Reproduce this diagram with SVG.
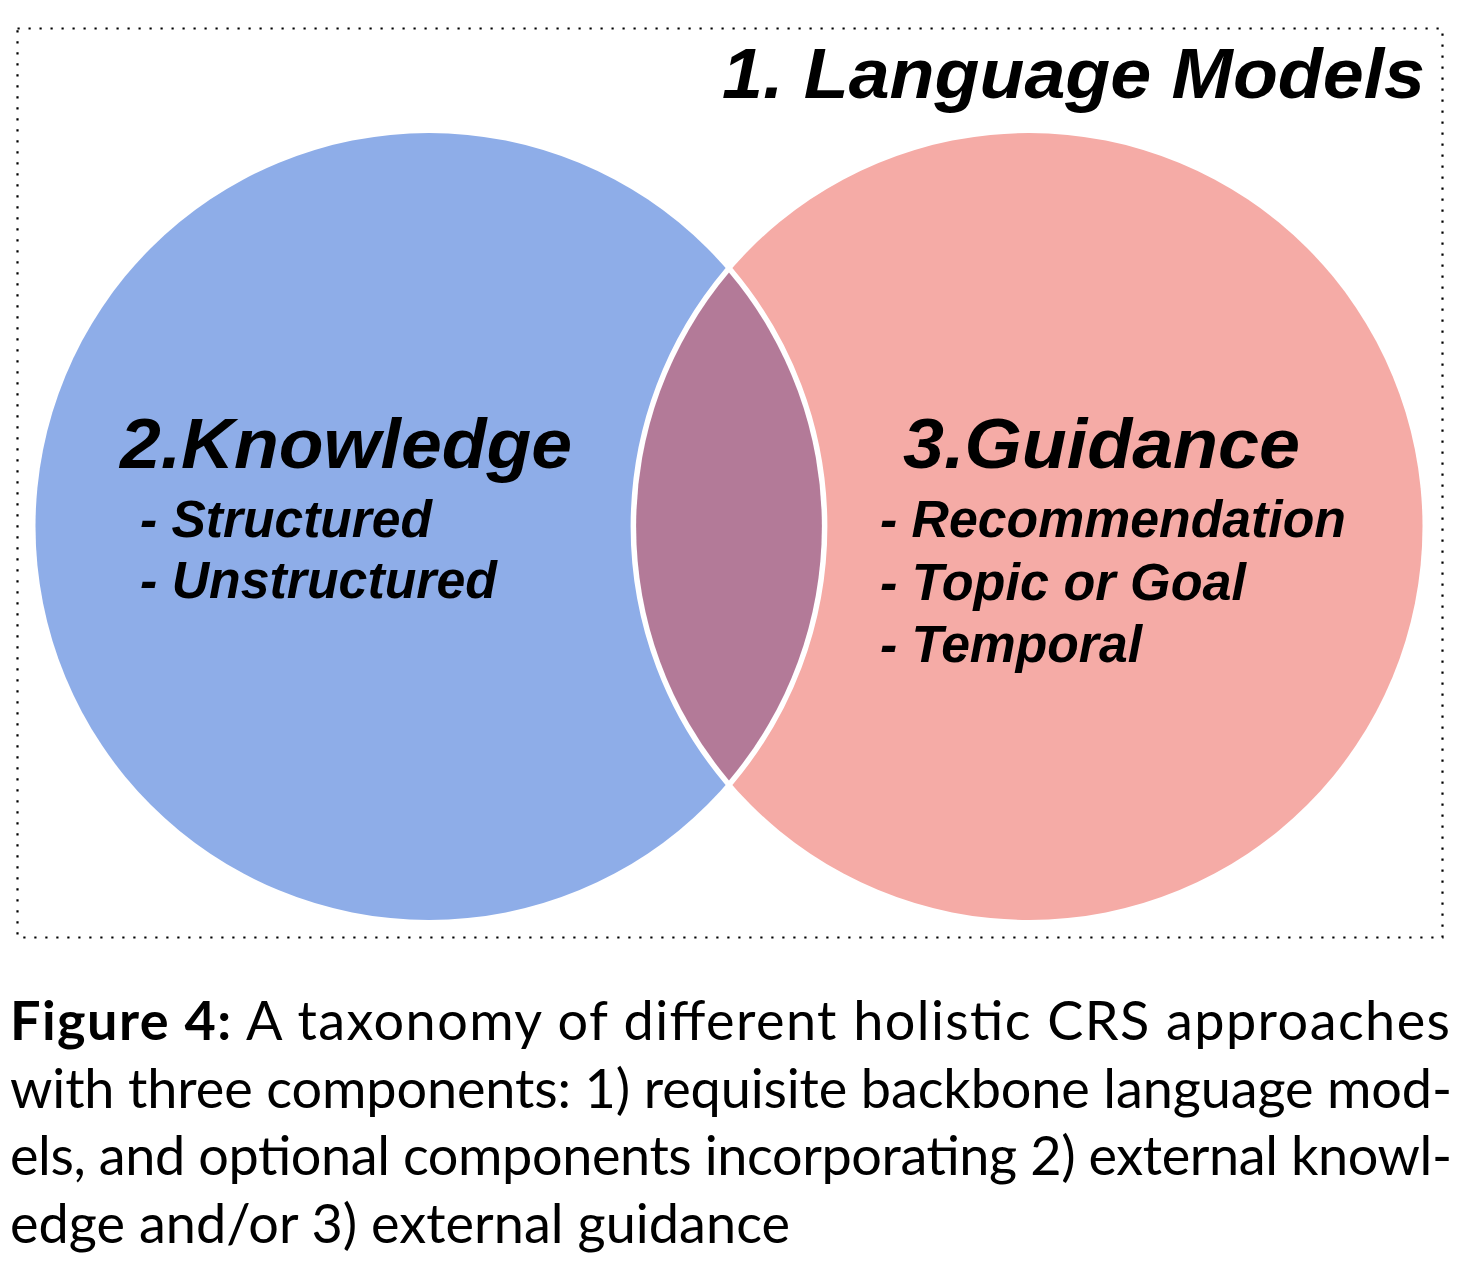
<svg xmlns="http://www.w3.org/2000/svg" width="1470" height="1284" viewBox="0 0 1470 1284">
<style>
.h{font-family:"Liberation Sans",Arial,sans-serif;font-weight:bold;font-style:italic;fill:#000}
.big{font-size:71px}
.sub{font-size:51px}
.cap{font-family:Lato,"Open Sans",sans-serif;font-size:54px;fill:#000}
.capb{font-weight:bold}
</style>
<rect width="1470" height="1284" fill="#fff"/>
<g id="frame">
<rect x="17.5" y="28.5" width="1425" height="909" fill="none" stroke="#000" stroke-width="2.2" stroke-dasharray="2.2 8.8"/>
</g>
<g id="language-models">
<text class="h big" x="722" y="98" textLength="703" lengthAdjust="spacingAndGlyphs">1. Language Models</text>
</g>
<g id="knowledge">
<circle cx="429" cy="526.5" r="393.5" fill="#8EADE8"/>
</g>
<g id="guidance">
<circle cx="1029" cy="526.5" r="393.5" fill="#F5ABA6"/>
</g>
<g id="overlap">
<path d="M729 272.6 A393.5 393.5 0 0 0 729 780.4 A393.5 393.5 0 0 0 729 272.6 Z" fill="#B37A98" stroke="#fff" stroke-width="11" stroke-linejoin="miter" paint-order="stroke"/>
</g>
<g id="knowledge-label">
<text class="h big" x="120" y="468" textLength="452" lengthAdjust="spacingAndGlyphs">2.Knowledge</text>
<text class="h sub" x="140" y="537" textLength="292" lengthAdjust="spacingAndGlyphs">- Structured</text>
<text class="h sub" x="140" y="598" textLength="357" lengthAdjust="spacingAndGlyphs">- Unstructured</text>
</g>
<g id="guidance-label">
<text class="h big" x="903" y="468" textLength="397" lengthAdjust="spacingAndGlyphs">3.Guidance</text>
<text class="h sub" x="880" y="537" textLength="466" lengthAdjust="spacingAndGlyphs">- Recommendation</text>
<text class="h sub" x="880" y="600" textLength="366" lengthAdjust="spacingAndGlyphs">- Topic or Goal</text>
<text class="h sub" x="880" y="662" textLength="262" lengthAdjust="spacingAndGlyphs">- Temporal</text>
</g>
<g id="connectors"/>
<g id="caption">
<text class="cap" x="10" y="1040" textLength="1440" lengthAdjust="spacing"><tspan class="capb">Figure 4:</tspan> A taxonomy of different holistic CRS approaches</text>
<text class="cap" x="10" y="1108" textLength="1442" lengthAdjust="spacing">with three components: 1) requisite backbone language mod-</text>
<text class="cap" x="10" y="1175" textLength="1442" lengthAdjust="spacing">els, and optional components incorporating 2) external knowl-</text>
<text class="cap" x="10" y="1243" textLength="780" lengthAdjust="spacing">edge and/or 3) external guidance</text>
</g>
</svg>
